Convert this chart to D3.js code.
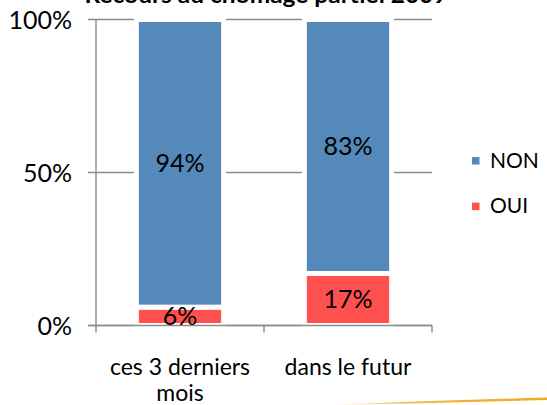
<!DOCTYPE html>
<html>
<head>
<meta charset="utf-8">
<script src="https://cdn.jsdelivr.net/npm/d3@7"></script>
<style>
  body { margin: 0; background: #fff; }
  svg { display: block; font-family: Lato, "Open Sans", sans-serif; }
</style>
</head>
<body>
<div id="chart"></div>
<script>
// data
const categories = ["ces 3 derniers mois", "dans le futur"];
const catLines   = [["ces 3 derniers", "mois"], ["dans le futur"]];
const seriesKeys = ["OUI", "NON"];           // stacked bottom -> top
const ouiValues  = [0.06, 0.17];
const nonValues  = [0.94, 0.83];
const yTicks     = [0, 0.5, 1];
const title      = "Recours au chômage partiel 2009";

const W = 547, H = 405;
const colors = { NON: "#5589BA", OUI: "#FF5050" };
const gridColor = "#8C8C8C";

const rows = categories.map((c, i) => ({ cat: c, OUI: ouiValues[i], NON: nonValues[i] }));

const svg = d3.select("#chart").append("svg")
    .attr("width", W)
    .attr("height", H);

const plot = { left: 96, right: 432, top: 19.5, bottom: 325.5 };

const x = d3.scaleBand()
    .domain(categories)
    .range([plot.left, plot.right])
    .padding(0);

const y = d3.scaleLinear()
    .domain([0, 1])
    .range([plot.bottom, plot.top]);

const barW = x.bandwidth() * 0.52;

// title (mostly cut off at the top of the picture)
svg.append("text")
    .attr("x", 266)
    .attr("y", 3)
    .attr("text-anchor", "middle")
    .attr("font-size", 22)
    .attr("font-weight", "bold")
    .attr("textLength", 363)
    .attr("lengthAdjust", "spacingAndGlyphs")
    .text(title);

// gridlines
svg.append("g")
    .selectAll("line")
    .data(yTicks)
    .join("line")
    .attr("x1", plot.left - 8)
    .attr("x2", plot.right)
    .attr("y1", d => y(d))
    .attr("y2", d => y(d))
    .attr("stroke", gridColor)
    .attr("stroke-width", 1.4);

// stacked bars
const stacked = d3.stack().keys(seriesKeys)(rows);

svg.append("g")
    .selectAll("g")
    .data(stacked)
    .join("g")
    .attr("fill", d => colors[d.key])
    .selectAll("rect")
    .data(d => d)
    .join("rect")
    .attr("x", d => x(d.data.cat) + x.bandwidth() / 2 - barW / 2)
    .attr("width", barW)
    .attr("y", d => y(d[1]))
    .attr("height", d => y(d[0]) - y(d[1]))
    .attr("stroke", "#fff")
    .attr("stroke-width", 5);

// axes
const axisG = svg.append("g")
    .attr("stroke", gridColor)
    .attr("stroke-width", 1.4);

axisG.append("line")
    .attr("x1", plot.left).attr("x2", plot.left)
    .attr("y1", y(1)).attr("y2", y(0));

axisG.append("line")
    .attr("x1", plot.left - 8).attr("x2", plot.right)
    .attr("y1", y(0)).attr("y2", y(0));

const xEdges = categories.map(c => x(c)).concat([x(categories[categories.length - 1]) + x.bandwidth()]);
axisG.selectAll("line.xt")
    .data(xEdges)
    .join("line")
    .attr("class", "xt")
    .attr("x1", d => d).attr("x2", d => d)
    .attr("y1", y(0)).attr("y2", y(0) + 7);

// y tick labels
svg.append("g")
    .selectAll("text")
    .data(yTicks)
    .join("text")
    .attr("x", 72)
    .attr("y", d => y(d))
    .attr("dy", "0.36em")
    .attr("text-anchor", "end")
    .attr("font-size", 25)
    .attr("fill", "#000")
    .text(d3.format(".0%"));

// data labels
svg.append("g")
    .selectAll("g")
    .data(stacked)
    .join("g")
    .selectAll("text")
    .data(d => d)
    .join("text")
    .attr("x", d => x(d.data.cat) + x.bandwidth() / 2)
    .attr("y", d => (y(d[0]) + y(d[1])) / 2)
    .attr("dy", "0.36em")
    .attr("text-anchor", "middle")
    .attr("font-size", 25)
    .attr("fill", "#000")
    .text(d => d3.format(".0%")(d[1] - d[0]));

// category labels
svg.append("g")
    .selectAll("text")
    .data(categories)
    .join("text")
    .attr("x", d => x(d) + x.bandwidth() / 2)
    .attr("y", 375)
    .attr("text-anchor", "middle")
    .attr("font-size", 23)
    .attr("fill", "#000")
    .each(function(d, i) {
        d3.select(this).selectAll("tspan")
            .data(catLines[i])
            .join("tspan")
            .attr("x", x(d) + x.bandwidth() / 2)
            .attr("dy", (t, j) => j === 0 ? 0 : 26)
            .text(t => t);
    });

// legend (NON on top)
const legendKeys = seriesKeys.slice().reverse();
const legend = svg.append("g")
    .selectAll("g")
    .data(legendKeys)
    .join("g")
    .attr("transform", (d, i) => `translate(472,${167.5 + i * 45.6})`);

legend.append("rect")
    .attr("x", 0)
    .attr("y", -10.5)
    .attr("width", 7.5)
    .attr("height", 7.5)
    .attr("fill", d => colors[d]);

legend.append("text")
    .attr("x", 18)
    .attr("y", 0)
    .attr("font-size", 21)
    .attr("fill", "#000")
    .text(d => d);

// decorative swoosh bottom right
const grad = svg.append("defs").append("linearGradient")
    .attr("id", "swoosh")
    .attr("x1", "0%").attr("x2", "100%");
grad.append("stop").attr("offset", "0%").attr("stop-color", "#F0B030").attr("stop-opacity", 0);
grad.append("stop").attr("offset", "35%").attr("stop-color", "#F0B030").attr("stop-opacity", 0.9);
grad.append("stop").attr("offset", "100%").attr("stop-color", "#EFA81E").attr("stop-opacity", 1);

svg.append("path")
    .attr("d", "M333,404.5 Q440,400.5 547,397.5 L547,400 Q440,403 333,405 Z")
    .attr("fill", "url(#swoosh)");
</script>
</body>
</html>
